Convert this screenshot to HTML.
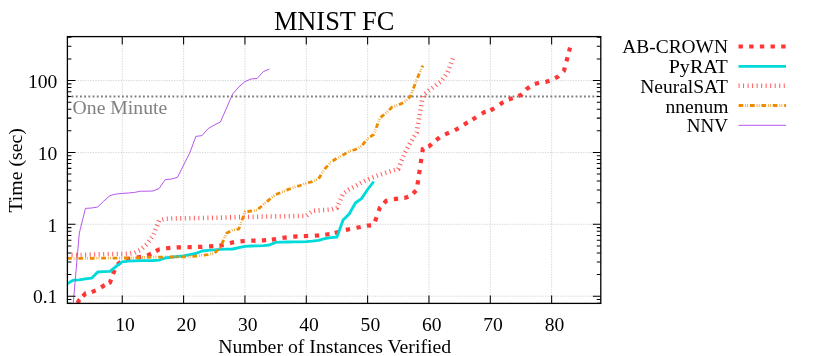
<!DOCTYPE html>
<html><head><meta charset="utf-8"><title>MNIST FC</title>
<style>html,body{margin:0;padding:0;background:#fff}svg{display:block;will-change:transform}text{font-family:"Liberation Serif",serif;}</style></head><body>
<svg width="830" height="356" viewBox="0 0 830 356">
<rect width="830" height="356" fill="#fff"/>
<defs><clipPath id="c"><rect x="67.4" y="36.6" width="533.4" height="266.79999999999995"/></clipPath></defs>
<path d="M122.26,303.4 V36.6 M183.60,303.4 V36.6 M244.94,303.4 V36.6 M306.28,303.4 V36.6 M367.62,303.4 V36.6 M428.96,303.4 V36.6 M490.30,303.4 V36.6 M551.64,303.4 V36.6 M67.4,296.20 H600.8 M67.4,224.32 H600.8 M67.4,152.44 H600.8 M67.4,80.56 H600.8" stroke="#c4c4c4" stroke-width="0.72" stroke-dasharray="1.27 1.27" fill="none"/>
<path d="M67.4,96.51 H600.8" stroke="#7e7e7e" stroke-width="1.8" stroke-dasharray="1.85 2.35" fill="none"/>
<text x="72.6" y="113.7" font-size="19.6" fill="#808080" textLength="94.6" lengthAdjust="spacingAndGlyphs">One Minute</text>
<g clip-path="url(#c)" fill="none" stroke-linejoin="round">
<path d="M77.40,303.13 L79.32,300.00 L79.75,299.54 M82.90,296.20 L85.45,293.50 L86.02,293.38 M91.74,292.13 L95.68,290.40 M101.11,287.40 L103.85,285.70 L104.81,285.20 M108.95,283.04 L109.99,282.50 L111.05,279.56 M113.06,273.98 L114.52,269.94 M117.33,264.51 L120.66,261.80 M125.94,259.54 L128.39,258.90 L130.14,258.64 M136.90,257.57 L140.66,256.90 L141.13,256.81 M147.21,255.60 L151.10,253.76 M155.92,251.19 L159.06,249.40 L159.73,249.28 M166.07,248.23 L170.36,247.88 M176.65,247.45 L177.46,247.40 L180.95,247.34 M187.45,247.24 L189.73,247.20 L191.75,247.13 M198.05,246.93 L202.00,246.80 L202.35,246.78 M209.05,246.44 L213.35,246.16 M219.42,245.68 L220.40,245.60 L223.64,244.86 M229.94,243.20 L232.67,242.40 L234.11,242.21 M240.48,241.44 L244.76,241.02 M251.25,240.70 L255.55,240.63 M261.85,240.45 L263.34,240.40 L266.14,240.22 M271.84,239.69 L275.61,239.20 L276.10,239.10 M282.47,237.90 L286.74,237.35 M293.25,236.67 L294.01,236.60 L297.54,236.43 M303.85,236.12 L306.28,236.00 L308.15,235.94 M314.85,235.64 L318.54,235.40 L319.14,235.34 M325.25,234.73 L329.51,234.17 M334.77,232.97 L336.95,232.40 L338.90,231.76 M345.86,229.86 L349.21,229.20 L350.08,229.03 M356.48,227.78 L360.70,226.95 M366.87,225.75 L367.62,225.60 L371.15,225.37 M375.09,221.36 L376.50,217.30 M378.69,211.03 L379.88,207.60 L380.34,207.11 M384.08,203.08 L386.02,201.00 L387.43,200.63 M393.85,199.18 L398.12,198.62 M404.28,198.01 L404.42,198.00 L408.37,196.71 M413.09,193.52 L416.16,190.51 M417.51,184.50 L418.15,180.25 M419.06,174.12 L419.70,169.87 M420.71,163.13 L421.34,158.88 M422.35,152.14 L422.82,149.00 L423.86,148.56 M428.36,146.65 L428.96,146.40 L431.69,143.99 M436.20,140.09 L439.54,137.37 M445.08,134.37 L447.36,133.40 L449.05,132.74 M454.89,130.20 L458.63,128.07 M464.01,124.64 L465.76,123.50 L467.68,122.41 M472.54,119.58 L476.14,117.23 M481.79,113.73 L484.16,112.30 L485.63,111.87 M490.53,110.36 L494.27,108.23 M499.90,104.45 L502.56,102.50 L503.46,102.07 M508.77,99.58 L512.81,98.12 M518.34,96.03 L520.97,95.00 L522.00,93.94 M526.22,89.61 L527.10,88.70 L529.61,86.98 M534.86,84.02 L538.99,82.81 M545.41,82.01 L545.50,82.00 L549.50,80.70 M555.05,78.22 L557.77,76.80 L558.67,75.95 M563.42,71.46 L563.90,71.00 L564.82,67.49 M566.43,61.37 L567.52,57.21 M569.04,51.41 L570.04,47.60" stroke="#ff3636" stroke-width="4.2" stroke-linejoin="miter"/>
<path d="M67.05,283.80 L73.18,280.20 L79.32,279.80 L85.45,278.80 L91.59,278.20 L97.72,272.00 L103.85,271.60 L109.99,271.40 L116.12,266.30 L122.26,261.80 L128.39,261.10 L134.52,260.80 L140.66,260.70 L146.79,260.60 L152.93,260.50 L159.06,260.20 L165.19,258.00 L171.33,257.10 L177.46,256.50 L183.60,255.80 L189.73,254.70 L195.86,253.50 L202.00,251.00 L208.13,250.30 L214.27,249.80 L220.40,249.30 L226.53,249.10 L232.67,249.00 L238.80,247.60 L244.94,246.40 L251.07,246.00 L257.20,245.80 L263.34,245.60 L269.47,245.00 L275.61,242.40 L281.74,242.20 L287.87,242.00 L294.01,241.80 L300.14,241.80 L306.28,241.60 L312.41,241.20 L318.54,240.40 L324.68,238.60 L330.81,237.60 L336.95,237.00 L343.08,220.00 L349.21,214.00 L355.35,203.00 L361.48,198.60 L367.62,189.50 L373.75,181.50" stroke="#00dada" stroke-width="2.85"/>
<path d="M67.05,255.00 L73.18,255.00 L79.32,255.00 L85.45,254.80 L91.59,254.60 L97.72,254.40 L103.85,254.20 L109.99,254.00 L116.12,254.00 L122.26,254.00 L128.39,253.80 L134.52,252.90 L140.66,249.80 L146.79,244.30 L152.93,236.00 L159.06,220.60 L165.19,218.80 L171.33,218.50 L177.46,218.40 L183.60,218.30 L189.73,218.20 L195.86,218.10 L202.00,218.00 L208.13,217.90 L214.27,217.80 L220.40,217.70 L226.53,217.50 L232.67,217.30 L238.80,217.10 L244.94,217.00 L251.07,216.90 L257.20,216.80 L263.34,216.60 L269.47,216.50 L275.61,216.40 L281.74,216.30 L287.87,216.20 L294.01,216.10 L300.14,216.00 L306.28,216.00 L312.41,211.00 L318.54,210.40 L324.68,210.00 L330.81,209.60 L336.95,207.80 L343.08,193.50 L349.21,189.30 L355.35,186.20 L361.48,182.60 L367.62,179.60 L373.75,177.00 L379.88,174.80 L386.02,172.60 L392.15,170.60 L398.29,169.00 L404.42,153.50 L410.55,142.30 L416.69,132.50 L422.82,95.50 L428.96,90.40 L435.09,86.00 L441.22,81.00 L447.36,73.00 L453.49,56.60" stroke="#ff5c5c" stroke-width="4.6" stroke-dasharray="1 3.52"/>
<path d="M67.05,258.40 L73.18,258.40 L79.32,258.40 L85.45,258.30 L91.59,258.30 L97.72,258.20 L103.85,258.20 L109.99,258.10 L116.12,258.10 L122.26,258.00 L128.39,258.00 L134.52,257.90 L140.66,257.50 L146.79,257.30 L152.93,257.20 L159.06,257.10 L165.19,257.00 L171.33,257.00 L177.46,257.00 L183.60,256.90 L189.73,256.50 L195.86,256.20 L202.00,255.20 L208.13,254.70 L214.27,253.40 L220.40,247.40 L226.53,233.30 L232.67,230.00 L238.80,229.00 L244.94,212.00 L251.07,211.00 L257.20,210.00 L263.34,204.60 L269.47,199.40 L275.61,194.70 L281.74,192.00 L287.87,189.60 L294.01,187.30 L300.14,185.50 L306.28,183.20 L312.41,181.60 L318.54,178.80 L324.68,169.00 L330.81,162.20 L336.95,158.20 L343.08,155.00 L349.21,151.00 L355.35,149.60 L361.48,146.20 L367.62,138.40 L373.75,134.50 L379.88,118.00 L386.02,113.00 L392.15,107.00 L398.29,105.20 L404.42,102.00 L410.55,96.30 L416.69,79.60 L422.82,65.60" stroke="#ee8c00" stroke-width="2.8" stroke-dasharray="4.7 2 0.65 1.45 0.65 1.95"/>
<path d="M67.05,345.00 L73.18,304.00 L79.32,233.00 L85.45,208.40 L91.59,208.00 L97.72,207.00 L103.85,201.00 L109.99,195.60 L116.12,194.00 L122.26,193.40 L128.39,193.00 L134.52,192.40 L140.66,191.20 L146.79,191.20 L152.93,191.00 L159.06,188.60 L165.19,179.60 L171.33,179.00 L177.46,177.40 L183.60,165.00 L189.73,153.00 L195.86,136.40 L202.00,135.60 L208.13,128.60 L214.27,125.00 L220.40,122.00 L226.53,108.00 L232.67,94.00 L238.80,87.00 L244.94,81.60 L251.07,79.00 L257.20,78.40 L263.34,71.60 L269.47,69.00" stroke="#ae44ea" stroke-width="0.9"/>
</g>
<path d="M122.26,303.4 v-8 M122.26,36.6 v8 M183.60,303.4 v-8 M183.60,36.6 v8 M244.94,303.4 v-8 M244.94,36.6 v8 M306.28,303.4 v-8 M306.28,36.6 v8 M367.62,303.4 v-8 M367.62,36.6 v8 M428.96,303.4 v-8 M428.96,36.6 v8 M490.30,303.4 v-8 M490.30,36.6 v8 M551.64,303.4 v-8 M551.64,36.6 v8 M67.4,296.20 h8 M600.8,296.20 h-8 M67.4,224.32 h8 M600.8,224.32 h-8 M67.4,152.44 h8 M600.8,152.44 h-8 M67.4,80.56 h8 M600.8,80.56 h-8 M67.4,303.17 h4 M600.8,303.17 h-4 M67.4,299.49 h4 M600.8,299.49 h-4 M67.4,274.56 h4 M600.8,274.56 h-4 M67.4,261.90 h4 M600.8,261.90 h-4 M67.4,252.92 h4 M600.8,252.92 h-4 M67.4,245.96 h4 M600.8,245.96 h-4 M67.4,240.27 h4 M600.8,240.27 h-4 M67.4,235.45 h4 M600.8,235.45 h-4 M67.4,231.29 h4 M600.8,231.29 h-4 M67.4,227.61 h4 M600.8,227.61 h-4 M67.4,202.68 h4 M600.8,202.68 h-4 M67.4,190.02 h4 M600.8,190.02 h-4 M67.4,181.04 h4 M600.8,181.04 h-4 M67.4,174.08 h4 M600.8,174.08 h-4 M67.4,168.39 h4 M600.8,168.39 h-4 M67.4,163.57 h4 M600.8,163.57 h-4 M67.4,159.41 h4 M600.8,159.41 h-4 M67.4,155.73 h4 M600.8,155.73 h-4 M67.4,130.80 h4 M600.8,130.80 h-4 M67.4,118.14 h4 M600.8,118.14 h-4 M67.4,109.16 h4 M600.8,109.16 h-4 M67.4,102.20 h4 M600.8,102.20 h-4 M67.4,96.51 h4 M600.8,96.51 h-4 M67.4,91.69 h4 M600.8,91.69 h-4 M67.4,87.53 h4 M600.8,87.53 h-4 M67.4,83.85 h4 M600.8,83.85 h-4 M67.4,58.92 h4 M600.8,58.92 h-4 M67.4,46.26 h4 M600.8,46.26 h-4 M67.4,37.28 h4 M600.8,37.28 h-4" stroke="#000" stroke-width="1.05" fill="none"/>
<rect x="67.4" y="36.6" width="533.4" height="266.79999999999995" fill="none" stroke="#000" stroke-width="1.3"/>
<text x="125.06" y="331" font-size="19.6" text-anchor="middle">10</text>
<text x="186.40" y="331" font-size="19.6" text-anchor="middle">20</text>
<text x="247.74" y="331" font-size="19.6" text-anchor="middle">30</text>
<text x="309.08" y="331" font-size="19.6" text-anchor="middle">40</text>
<text x="370.42" y="331" font-size="19.6" text-anchor="middle">50</text>
<text x="431.76" y="331" font-size="19.6" text-anchor="middle">60</text>
<text x="493.10" y="331" font-size="19.6" text-anchor="middle">70</text>
<text x="554.44" y="331" font-size="19.6" text-anchor="middle">80</text>
<text x="57.4" y="303.40" font-size="19.6" text-anchor="end">0.1</text>
<text x="57.4" y="231.52" font-size="19.6" text-anchor="end">1</text>
<text x="57.4" y="159.64" font-size="19.6" text-anchor="end">10</text>
<text x="57.4" y="87.76" font-size="19.6" text-anchor="end">100</text>
<text x="334.1" y="29.8" font-size="26.67" text-anchor="middle" textLength="120.4" lengthAdjust="spacingAndGlyphs">MNIST FC</text>
<text x="334.7" y="353.2" font-size="19.6" text-anchor="middle" textLength="233" lengthAdjust="spacingAndGlyphs">Number of Instances Verified</text>
<text transform="translate(21.8,170.4) rotate(-90)" font-size="19.6" text-anchor="middle" textLength="84.3" lengthAdjust="spacingAndGlyphs">Time (sec)</text>
<text x="727.9" y="53.10" font-size="19.6" text-anchor="end" textLength="105.6" lengthAdjust="spacingAndGlyphs">AB-CROWN</text>
<text x="727.9" y="73.30" font-size="19.6" text-anchor="end" textLength="59.2" lengthAdjust="spacingAndGlyphs">PyRAT</text>
<text x="727.9" y="93.10" font-size="19.6" text-anchor="end" textLength="87.6" lengthAdjust="spacingAndGlyphs">NeuralSAT</text>
<text x="728.5" y="112.60" font-size="19.6" text-anchor="end" textLength="63.0" lengthAdjust="spacingAndGlyphs">nnenum</text>
<text x="727.9" y="132.30" font-size="19.6" text-anchor="end" textLength="41.2" lengthAdjust="spacingAndGlyphs">NNV</text>
<g fill="none">
<path d="M738.5,46.5 H786" stroke="#ff3636" stroke-width="4.2" stroke-dasharray="4.4 6.27"/>
<path d="M738.5,66.4 H786" stroke="#00dada" stroke-width="2.85"/>
<path d="M738.55,85.75 H786" stroke="#ff5c5c" stroke-width="4.6" stroke-dasharray="1 3.52"/>
<path d="M738.6,105.5 H786" stroke="#ee8c00" stroke-width="2.8" stroke-dasharray="4.7 2 0.65 1.45 0.65 1.95"/>
<path d="M738.5,125.3 H786" stroke="#ae44ea" stroke-width="0.9"/>
</g>
</svg></body></html>
